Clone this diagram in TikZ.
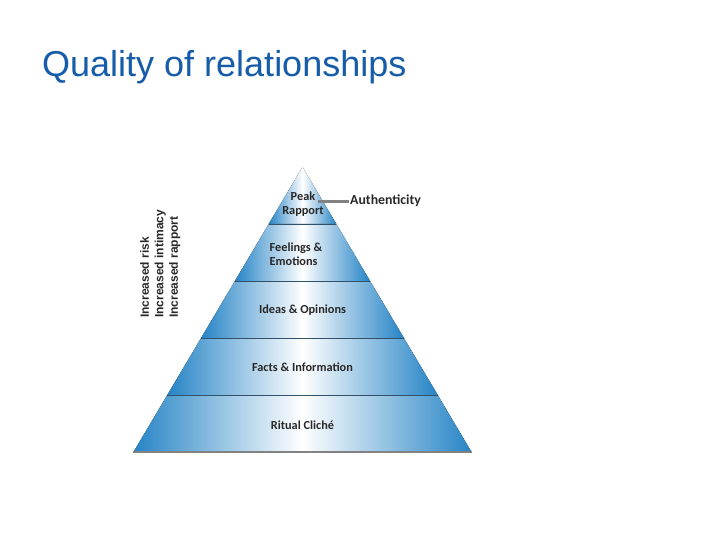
\documentclass[tikz,border=0pt]{standalone}
\usepackage{fontspec}
\setmainfont{Carlito}
\newfontfamily\titlefont{Liberation Sans}
\usepackage{tikz}
\usetikzlibrary{positioning,calc}
\definecolor{titleblue}{RGB}{22, 92, 168}
\definecolor{pyramidblue}{RGB}{38, 132, 198}
\definecolor{bandline}{RGB}{50, 80, 105}
\definecolor{basegray}{RGB}{130, 130, 130}
\definecolor{labelgray}{RGB}{40, 40, 40}

\begin{document}
\begin{tikzpicture}[
    x=1pt, y=-1pt,
    every node/.style={align=center},
    title/.style={anchor=base west, inner sep=0pt, text=titleblue, font=\titlefont\fontsize{36}{42}\selectfont},
    band/.style={left color=pyramidblue, right color=pyramidblue, middle color=white},
    divider/.style={draw=bandline, line width=0.8pt},
    level/.style={inner sep=1pt, text=labelgray, font=\bfseries\fontsize{12.3}{16}\selectfont},
    side/.style={rotate=90, anchor=north west, align=left, inner sep=0pt, text=labelgray, font=\titlefont\bfseries\fontsize{12}{14.5}\selectfont},
    link/.style={draw=basegray, line width=3pt}
]
\useasboundingbox (0,0) rectangle (720,540);

% Title
\node[title] (title) at (42,77) {Quality of relationships};

% Pyramid bands
\coordinate (apex) at (302.5,167);
\fill[band] (apex) -- (268.7,224) -- (336.3,224) -- cycle;
\foreach \top/\bot in {224/281, 281/338, 338/395, 395/452} {
    \pgfmathsetmacro{\wt}{0.593*(\top-167)}
    \pgfmathsetmacro{\wb}{0.593*(\bot-167)}
    \fill[band] (302.5-\wt,\top) -- (302.5-\wb,\bot) -- (302.5+\wb,\bot) -- (302.5+\wt,\top) -- cycle;
}
\foreach \lev in {224, 281, 338, 395} {
    \pgfmathsetmacro{\w}{0.593*(\lev-167)}
    \draw[divider] (302.5-\w,\lev) -- (302.5+\w,\lev);
}
\draw[draw=basegray, line width=2pt] (133,452) -- (472,452);

% Levels
\node[level] (peak) at (303,204) {Peak\\[-2pt]Rapport};
\node[level, align=left] (feelings) at (296,254) {Feelings \&\\[-2pt]Emotions};
\node[level] (ideas) at (302.5,310) {Ideas \& Opinions};
\node[level] (facts) at (302.5,367) {Facts \& Information};
\node[level] (ritual) at (302.5,425) {Ritual Clich\'e};

% Authenticity
\node[level, anchor=west, font=\bfseries\fontsize{13.8}{16}\selectfont] (auth) at (349,201) {Authenticity};
\coordinate (peak_tip) at (318,202);
\draw[link] (peak_tip) -- (peak_tip -| auth.west);

% Side labels
\node[side] (increase) at (140,318) {Increased risk\\Increased intimacy\\Increased rapport};

\end{tikzpicture}
\end{document}
